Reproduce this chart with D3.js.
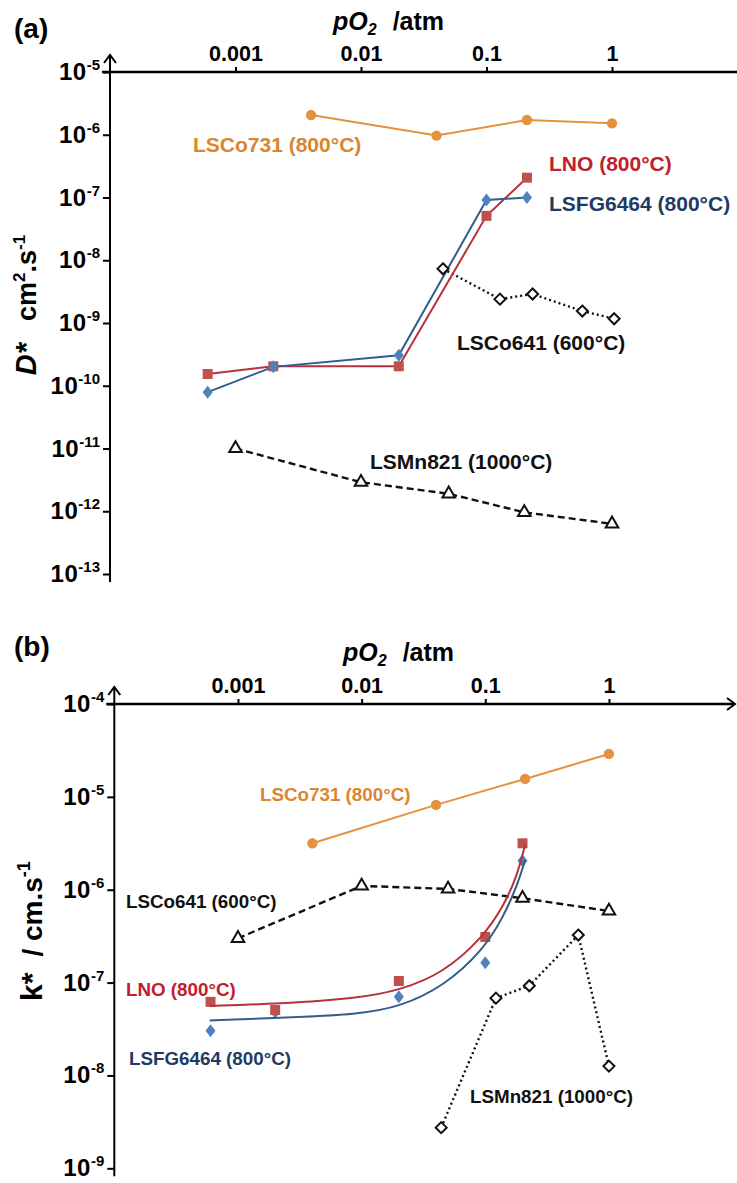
<!DOCTYPE html>
<html><head><meta charset="utf-8">
<script src="https://cdn.jsdelivr.net/npm/d3@7"></script>
<style>
body{margin:0;background:#fff}
svg{display:block}
text{font-family:"Liberation Sans",Arial,sans-serif;font-weight:bold}
</style>
</head><body>
<svg id="chart" width="737" height="1183"></svg>
<script>
// ---------------- DATA ----------------
const xTickValues = [0.001, 0.01, 0.1, 1];
const xTickLabels = ["0.001", "0.01", "0.1", "1"];
const yExpA = [-5, -6, -7, -8, -9, -10, -11, -12, -13];
const yExpB = [-4, -5, -6, -7, -8, -9];

// Panel (a): D* / cm2.s-1 vs pO2
const a_LSCo731_p = [0.004, 0.04, 0.21, 1.0];
const a_LSCo731_v = [2.06e-6, 9.7e-7, 1.72e-6, 1.52e-6];
const a_LNO_p = [6e-4, 0.002, 0.02, 0.1, 0.21];
const a_LNO_v = [1.54e-10, 2.04e-10, 2.04e-10, 5.1e-8, 2.07e-7];
const a_LSFG_p = [6e-4, 0.002, 0.02, 0.1, 0.21];
const a_LSFG_v = [7.9e-11, 2.0e-10, 3.05e-10, 9.1e-8, 1.0e-7];
const a_LSCo641_p = [0.045, 0.128, 0.233, 0.58, 1.04];
const a_LSCo641_v = [7.3e-9, 2.4e-9, 2.9e-9, 1.55e-9, 1.17e-9];
const a_LSMn821_p = [0.001, 0.01, 0.05, 0.2, 1.0];
const a_LSMn821_v = [1.0e-11, 2.9e-12, 1.9e-12, 9.6e-13, 6.3e-13];

// Panel (b): k* / cm.s-1 vs pO2
const b_LSCo731_p = [0.004, 0.04, 0.21, 1.0];
const b_LSCo731_v = [3.16e-6, 8.2e-6, 1.56e-5, 2.9e-5];
const b_LSCo641_p = [0.001, 0.01, 0.05, 0.2, 1.0];
const b_LSCo641_v = [3.0e-7, 1.1e-6, 1.02e-6, 8.1e-7, 5.9e-7];
const b_LSMn821_p = [0.044, 0.122, 0.227, 0.565, 1.0];
const b_LSMn821_v = [2.74e-9, 6.8e-8, 9.25e-8, 3.25e-7, 1.26e-8];
const b_LNO_p = [6e-4, 0.002, 0.02, 0.1, 0.2];
const b_LNO_v = [6.2e-8, 5.07e-8, 1.04e-7, 3.1e-7, 3.16e-6];
const b_LSFG_p = [6e-4, 0.002, 0.02, 0.1, 0.2];
const b_LSFG_v = [3.03e-8, 4.8e-8, 7.05e-8, 1.64e-7, 2.05e-6];
// fitted curves
const b_fit_p = [5.9e-4, 0.0021, 0.0097, 0.0204, 0.0457, 0.0964, 0.14, 0.18, 0.21];
const b_LNO_fit_v = [5.6e-8, 5.9e-8, 6.8e-8, 8.3e-8, 1.26e-7, 3.1e-7, 6.6e-7, 1.38e-6, 3.03e-6];
const b_LSFG_fit_v = [3.9e-8, 4.16e-8, 4.55e-8, 5.5e-8, 9.0e-8, 2.24e-7, 5.1e-7, 1.08e-6, 2.09e-6];

// ---------------- STYLE ----------------
const C_ORANGE = "#E5923F", C_ORANGE_T = "#DA8530";
const C_RED_M = "#C0504D", C_RED_L = "#B5323A", C_RED_T = "#C0202E";
const C_BLUE_M = "#4F81BD", C_BLUE_L = "#2F5D8C", C_BLUE_T = "#1F3B64";
const C_BLACK = "#111";

const svg = d3.select("#chart");
const zip = (p, v) => p.map((d, i) => [d, v[i]]);

function arrowUp(g, x, y) {
  g.append("path").attr("d", `M${x-6},${y+8} L${x},${y} L${x+6},${y+8}`)
    .attr("fill", "none").attr("stroke", "#000").attr("stroke-width", 2);
}
function arrowRight(g, x, y) {
  g.append("path").attr("d", `M${x-8},${y-6} L${x},${y} L${x-8},${y+6}`)
    .attr("fill", "none").attr("stroke", "#000").attr("stroke-width", 2);
}

function panel(cfg) {
  const { x, y, g, exps } = cfg;
  const top = y.range()[1], bottom = y.range()[0], left = x.range()[0];
  // X axis (top)
  const xa = g.append("g").attr("transform", `translate(0,${top})`)
    .call(d3.axisTop(x).tickValues(xTickValues).tickFormat((d, i) => xTickLabels[i]).tickSize(5).tickPadding(6));
  xa.select(".domain").remove();
  xa.selectAll(".tick line").attr("stroke", "#000").attr("stroke-width", 2);
  xa.selectAll(".tick text").attr("font-size", 21.5).attr("font-family", "Liberation Sans, Arial, sans-serif")
    .attr("font-weight", "bold").attr("fill", "#000");
  g.append("line").attr("x1", left - 8).attr("x2", cfg.xEnd).attr("y1", top).attr("y2", top)
    .attr("stroke", "#000").attr("stroke-width", 2.6);
  if (cfg.rightArrow) arrowRight(g, cfg.xEnd + 2, top);
  // Y axis
  const ya = g.append("g").attr("transform", `translate(${left},0)`)
    .call(d3.axisLeft(y).tickValues(exps.map(e => Math.pow(10, e))).tickSize(7).tickFormat(""));
  ya.select(".domain").remove();
  ya.selectAll(".tick line").attr("stroke", "#000").attr("stroke-width", 2);
  g.append("line").attr("x1", left).attr("x2", left).attr("y1", top - 16).attr("y2", bottom + 8)
    .attr("stroke", "#000").attr("stroke-width", 2);
  arrowUp(g, left, top - 17);
  // Y tick labels
  exps.forEach(e => {
    const t = g.append("text").attr("x", left - 10).attr("y", y(Math.pow(10, e)) + 8)
      .attr("text-anchor", "end").attr("fill", "#000");
    t.append("tspan").attr("font-size", 24).attr("letter-spacing", 0.5).text("10");
    t.append("tspan").attr("font-size", 15).attr("dy", -10).text(String(e));
  });
  // X title
  const tt = g.append("text").attr("x", cfg.titleX).attr("y", cfg.titleY).attr("fill", "#000");
  tt.append("tspan").attr("font-size", 25).attr("font-style", "italic").text("pO");
  tt.append("tspan").attr("font-size", 16).attr("font-style", "italic").attr("dy", 5).text("2");
  tt.append("tspan").attr("font-size", 25).attr("dy", -5).attr("dx", 16).text("/atm");
  // panel letter
  g.append("text").attr("x", 14).attr("y", cfg.letterY).attr("font-size", 28).attr("fill", "#000").text(cfg.letter);
}

function lineSeries(g, x, y, data, color, width, dash, curve) {
  const ln = d3.line().x(d => x(d[0])).y(d => y(d[1]));
  if (curve) ln.curve(curve);
  g.append("path").attr("d", ln(data)).attr("fill", "none").attr("stroke", color)
    .attr("stroke-width", width).attr("stroke-dasharray", dash || null);
}
function markers(g, x, y, data, pathStr, fill, stroke, sw) {
  g.selectAll(null).data(data).enter().append("path")
    .attr("transform", d => `translate(${x(d[0])},${y(d[1])})`)
    .attr("d", pathStr).attr("fill", fill).attr("stroke", stroke || "none").attr("stroke-width", sw || 0);
}
function label(g, xp, yp, txt, color, size) {
  g.append("text").attr("x", xp).attr("y", yp).attr("font-size", size).attr("fill", color).text(txt);
}

const circlePath = d3.symbol().type(d3.symbolCircle).size(85)();
const squarePath = d3.symbol().type(d3.symbolSquare).size(100)();
const diamondPath = "M0,-6.5L5,0L0,6.5L-5,0Z";
const openDiamond = "M0,-5.5L5.5,0L0,5.5L-5.5,0Z";
const triPath = d3.symbol().type(d3.symbolTriangle).size(68)();

// ---------------- PANEL A ----------------
const xA = d3.scaleLog().domain([1e-4, 10]).range([110, 737.5]);
const yA = d3.scaleLog().domain([1e-13, 1e-5]).range([574, 72]);
const gA = svg.append("g");
panel({ x: xA, y: yA, g: gA, exps: yExpA, xEnd: 737, rightArrow: false, titleX: 333, titleY: 30, letterY: 38, letter: "(a)" });

lineSeries(gA, xA, yA, zip(a_LSCo731_p, a_LSCo731_v), C_ORANGE, 2);
markers(gA, xA, yA, zip(a_LSCo731_p, a_LSCo731_v), circlePath, C_ORANGE);
lineSeries(gA, xA, yA, zip(a_LSCo641_p, a_LSCo641_v), C_BLACK, 2.4, "2,3");
lineSeries(gA, xA, yA, zip(a_LSMn821_p, a_LSMn821_v), C_BLACK, 2.4, "7,4");
lineSeries(gA, xA, yA, zip(a_LNO_p, a_LNO_v), C_RED_L, 2);
lineSeries(gA, xA, yA, zip(a_LSFG_p, a_LSFG_v), C_BLUE_L, 2);
markers(gA, xA, yA, zip(a_LNO_p, a_LNO_v), squarePath, C_RED_M);
markers(gA, xA, yA, zip(a_LSFG_p, a_LSFG_v), diamondPath, C_BLUE_M);
markers(gA, xA, yA, zip(a_LSCo641_p, a_LSCo641_v), openDiamond, "#fff", C_BLACK, 2);
markers(gA, xA, yA, zip(a_LSMn821_p, a_LSMn821_v), triPath, "#fff", C_BLACK, 2);

label(gA, 193, 152, "LSCo731 (800°C)", C_ORANGE_T, 21);
label(gA, 549, 171, "LNO (800°C)", C_RED_T, 21);
label(gA, 549, 211, "LSFG6464 (800°C)", C_BLUE_T, 21);
label(gA, 457, 350, "LSCo641 (600°C)", C_BLACK, 21);
label(gA, 370, 469, "LSMn821 (1000°C)", C_BLACK, 21);

// Y title (a)
const ytA = gA.append("text").attr("transform", "translate(36,305) rotate(-90)").attr("text-anchor", "middle").attr("fill", "#000");
ytA.append("tspan").attr("font-size", 29).attr("font-style", "italic").text("D*");
ytA.append("tspan").attr("font-size", 27).attr("dx", 22).text("cm");
ytA.append("tspan").attr("font-size", 17).attr("dy", -11).text("2");
ytA.append("tspan").attr("font-size", 27).attr("dy", 11).text(".s");
ytA.append("tspan").attr("font-size", 17).attr("dy", -11).text("-1");

// ---------------- PANEL B ----------------
const xB = d3.scaleLog().domain([1e-4, 10]).range([114.3, 732.6]);
const yB = d3.scaleLog().domain([1e-9, 1e-4]).range([1168.3, 704]);
const gB = svg.append("g");
panel({ x: xB, y: yB, g: gB, exps: yExpB, xEnd: 733, rightArrow: true, titleX: 343, titleY: 661, letterY: 656, letter: "(b)" });

lineSeries(gB, xB, yB, zip(b_LSCo731_p, b_LSCo731_v), C_ORANGE, 2);
markers(gB, xB, yB, zip(b_LSCo731_p, b_LSCo731_v), circlePath, C_ORANGE);
lineSeries(gB, xB, yB, zip(b_LSCo641_p, b_LSCo641_v), C_BLACK, 2.4, "7,4");
lineSeries(gB, xB, yB, zip(b_LSMn821_p, b_LSMn821_v), C_BLACK, 2.4, "2,3");
markers(gB, xB, yB, zip(b_LSFG_p, b_LSFG_v), diamondPath, C_BLUE_M);
markers(gB, xB, yB, zip(b_LNO_p, b_LNO_v), squarePath, C_RED_M);
lineSeries(gB, xB, yB, zip(b_fit_p, b_LNO_fit_v), C_RED_L, 2, null, d3.curveBasis);
lineSeries(gB, xB, yB, zip(b_fit_p, b_LSFG_fit_v), C_BLUE_L, 2, null, d3.curveBasis);
markers(gB, xB, yB, zip(b_LSCo641_p, b_LSCo641_v), triPath, "#fff", C_BLACK, 2);
markers(gB, xB, yB, zip(b_LSMn821_p, b_LSMn821_v), openDiamond, "#fff", C_BLACK, 2);

label(gB, 260, 801, "LSCo731 (800°C)", C_ORANGE_T, 18.8);
label(gB, 126, 908, "LSCo641 (600°C)", C_BLACK, 18.8);
label(gB, 126, 996, "LNO (800°C)", C_RED_T, 18.8);
label(gB, 129, 1065, "LSFG6464 (800°C)", C_BLUE_T, 18.8);
label(gB, 470, 1103, "LSMn821 (1000°C)", C_BLACK, 18.8);

// Y title (b)
const ytB = gB.append("text").attr("transform", "translate(42,931) rotate(-90)").attr("text-anchor", "middle").attr("fill", "#000");
ytB.append("tspan").attr("font-size", 30).text("k*");
ytB.append("tspan").attr("font-size", 28).attr("dx", 16).text("/ cm.s");
ytB.append("tspan").attr("font-size", 18).attr("dy", -12).text("-1");
</script>
</body></html>
